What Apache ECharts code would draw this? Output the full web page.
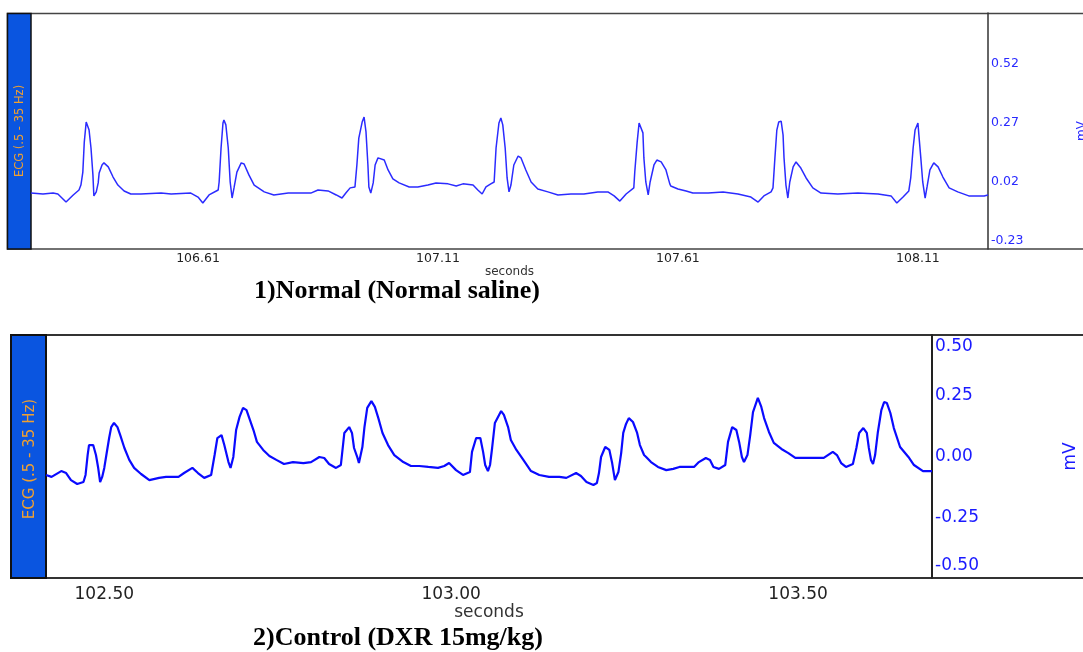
<!DOCTYPE html>
<html>
<head>
<meta charset="utf-8">
<script src="https://cdn.jsdelivr.net/npm/echarts@6/dist/echarts.min.js"></script>
<style>
  html, body { margin: 0; padding: 0; background: #fff; }
  #main { width: 1083px; height: 652px; }
</style>
</head>
<body>
<div id="main"></div>
<script>
// 1) Normal (Normal saline) - ECG trace, seconds / mV
var normalTime = [
  106.262,106.287,106.308,106.318,106.335,106.350,106.362,106.366,106.370,106.373,
  106.377,106.381,106.383,106.387,106.391,106.393,106.398,106.402,106.404,106.410,
  106.414,106.423,106.433,106.443,106.456,106.470,106.491,106.533,106.554,106.595,
  106.610,106.620,106.633,106.652,106.654,106.658,106.662,106.664,106.668,106.673,
  106.677,106.681,106.685,106.691,106.700,106.706,106.716,106.727,106.748,106.768,
  106.798,106.845,106.860,106.881,106.898,106.910,106.918,106.927,106.937,106.941,
  106.945,106.952,106.956,106.960,106.964,106.966,106.970,106.975,106.979,106.985,
  106.989,106.998,107.006,107.016,107.029,107.050,107.068,107.089,107.106,107.131,
  107.148,107.162,107.183,107.193,107.202,107.210,107.220,107.227,107.231,107.237,
  107.241,107.245,107.250,107.254,107.258,107.262,107.268,107.277,107.283,107.293,
  107.304,107.318,107.339,107.360,107.387,107.414,107.443,107.464,107.477,107.489,
  107.502,107.518,107.520,107.525,107.529,107.533,107.537,107.539,107.543,107.548,
  107.552,107.560,107.566,107.575,107.585,107.593,107.595,107.610,107.627,107.641,
  107.673,107.704,107.735,107.762,107.777,107.789,107.804,107.808,107.812,107.816,
  107.820,107.825,107.829,107.831,107.835,107.839,107.843,107.850,107.856,107.866,
  107.877,107.891,107.908,107.943,107.985,108.027,108.054,108.066,108.079,108.091,
  108.095,108.100,108.104,108.110,108.112,108.116,108.120,108.125,108.129,108.135,
  108.143,108.152,108.162,108.175,108.193,108.216,108.248,108.256
];
var normalMv = [
  -0.027,-0.031,-0.027,-0.031,-0.065,-0.035,-0.014,0.007,0.062,0.189,
  0.274,0.270,0.240,0.164,0.050,-0.039,-0.022,0.016,0.058,0.092,
  0.101,0.084,0.041,0.007,-0.018,-0.031,-0.031,-0.027,-0.031,-0.027,
  -0.044,-0.069,-0.035,-0.014,0.020,0.164,0.270,0.283,0.262,0.164,
  0.020,-0.048,-0.005,0.062,0.101,0.096,0.050,0.007,-0.022,-0.035,
  -0.027,-0.027,-0.014,-0.018,-0.035,-0.048,-0.027,-0.005,-0.001,0.092,
  0.206,0.274,0.295,0.232,0.092,-0.001,-0.027,0.016,0.092,0.122,
  0.130,0.113,0.071,0.033,0.016,-0.001,-0.001,0.007,0.016,0.012,
  0.003,0.012,0.007,-0.014,-0.031,-0.001,0.012,0.020,0.164,0.270,
  0.291,0.262,0.164,0.037,-0.022,0.007,0.092,0.130,0.122,0.071,
  0.020,-0.010,-0.022,-0.035,-0.031,-0.031,-0.022,-0.022,-0.039,-0.061,
  -0.031,-0.005,0.062,0.189,0.270,0.278,0.228,0.122,0.020,-0.035,
  0.020,0.092,0.113,0.105,0.071,0.012,0.003,-0.010,-0.018,-0.027,
  -0.027,-0.022,-0.031,-0.044,-0.065,-0.039,-0.022,-0.005,0.122,0.240,
  0.274,0.278,0.219,0.122,0.007,-0.048,0.020,0.084,0.105,0.079,
  0.037,-0.005,-0.027,-0.031,-0.027,-0.031,-0.039,-0.069,-0.044,-0.018,
  0.037,0.164,0.240,0.270,0.219,0.122,0.020,-0.048,-0.001,0.071,
  0.101,0.084,0.041,-0.005,-0.022,-0.039,-0.039,-0.035
];
var normalTicks = [106.61, 107.11, 107.61, 108.11];
var normalMvTicks = [-0.23, 0.02, 0.27, 0.52];

// 2) Control (DXR 15mg/kg)
var controlTime = [
  102.416,102.424,102.438,102.445,102.452,102.461,102.470,102.473,102.476,102.478,
  102.484,102.488,102.491,102.494,102.497,102.500,102.503,102.507,102.510,102.514,
  102.519,102.523,102.529,102.536,102.543,102.553,102.565,102.579,102.589,102.607,
  102.615,102.627,102.635,102.644,102.654,102.659,102.663,102.669,102.673,102.679,
  102.682,102.686,102.690,102.695,102.700,102.705,102.709,102.715,102.720,102.729,
  102.738,102.748,102.759,102.772,102.787,102.798,102.810,102.817,102.824,102.834,
  102.841,102.846,102.853,102.857,102.860,102.865,102.867,102.872,102.875,102.879,
  102.885,102.890,102.895,102.901,102.909,102.918,102.931,102.942,102.954,102.967,
  102.981,102.990,102.997,103.007,103.017,103.027,103.030,103.036,103.042,103.046,
  103.049,103.053,103.056,103.059,103.063,103.069,103.072,103.076,103.082,103.086,
  103.094,103.104,103.115,103.127,103.141,103.156,103.166,103.180,103.187,103.195,
  103.205,103.210,103.213,103.216,103.222,103.228,103.232,103.236,103.241,103.245,
  103.248,103.252,103.256,103.262,103.268,103.272,103.278,103.281,103.288,103.298,
  103.310,103.320,103.329,103.350,103.357,103.367,103.373,103.378,103.386,103.395,
  103.399,103.405,103.411,103.415,103.419,103.422,103.427,103.431,103.435,103.442,
  103.447,103.451,103.458,103.465,103.476,103.486,103.496,103.522,103.537,103.550,
  103.556,103.562,103.569,103.579,103.584,103.588,103.594,103.599,103.602,103.605,
  103.608,103.611,103.615,103.620,103.624,103.628,103.633,103.638,103.647,103.659,
  103.667,103.680,103.693
];
var controlMv = [
  -0.076,-0.084,-0.060,-0.068,-0.097,-0.113,-0.105,-0.076,0.006,0.047,
  0.047,0.006,-0.043,-0.105,-0.084,-0.047,0.006,0.076,0.121,0.138,
  0.121,0.088,0.035,-0.014,-0.047,-0.072,-0.097,-0.088,-0.084,-0.084,
  -0.068,-0.047,-0.068,-0.088,-0.076,0.006,0.076,0.088,0.047,-0.023,
  -0.047,-0.002,0.109,0.163,0.200,0.191,0.158,0.109,0.060,0.027,
  0.002,-0.014,-0.031,-0.023,-0.027,-0.023,-0.002,-0.006,-0.031,-0.047,
  -0.035,0.097,0.121,0.097,0.035,-0.006,-0.027,0.039,0.121,0.200,
  0.228,0.204,0.158,0.097,0.047,0.006,-0.023,-0.039,-0.039,-0.043,
  -0.047,-0.039,-0.027,-0.056,-0.076,-0.064,0.019,0.076,0.076,0.019,
  -0.035,-0.060,-0.035,0.035,0.138,0.171,0.187,0.171,0.121,0.068,
  0.027,-0.014,-0.060,-0.076,-0.084,-0.084,-0.088,-0.068,-0.080,-0.105,
  -0.117,-0.109,-0.068,-0.002,0.039,0.027,-0.027,-0.097,-0.064,0.014,
  0.097,0.134,0.158,0.142,0.097,0.047,0.006,-0.002,-0.023,-0.043,
  -0.056,-0.051,-0.043,-0.043,-0.023,-0.006,-0.014,-0.043,-0.051,-0.035,
  0.060,0.121,0.109,0.060,-0.002,-0.023,0.006,0.088,0.183,0.241,
  0.204,0.158,0.101,0.056,0.031,0.014,-0.006,-0.006,-0.006,0.019,
  0.006,-0.027,-0.043,-0.031,0.035,0.097,0.117,0.097,0.035,-0.014,
  -0.031,0.006,0.101,0.191,0.224,0.220,0.179,0.117,0.039,-0.002,
  -0.035,-0.060,-0.060
];
var controlTicks = [102.50, 103.00, 103.50];
var controlMvTicks = [-0.50, -0.25, 0.00, 0.25, 0.50];

function pairs(xs, ys) {
  return xs.map(function (x, i) { return [x, ys[i]]; });
}

var chart = echarts.init(document.getElementById('main'));
var font = '"DejaVu Sans", Arial, sans-serif';
var serif = '"Liberation Serif", "Times New Roman", serif';

var option = {
  animation: false,
  backgroundColor: '#fff',
  grid: [
    { left: 31, top: 13, width: 957, height: 236, outerBoundsMode: 'none' },
    { left: 46, top: 335, width: 886, height: 243, outerBoundsMode: 'none' }
  ],
  xAxis: [
    {
      gridIndex: 0, type: 'value', min: 106.262, max: 108.256,
      name: 'seconds', nameLocation: 'middle', nameGap: 15,
      nameTextStyle: { color: '#333', fontSize: 12, fontFamily: font },
      axisLine: { show: false }, axisTick: { show: false }, splitLine: { show: false },
      axisLabel: {
        customValues: normalTicks, margin: 3, color: '#222', fontSize: 12.5, fontFamily: font,
        formatter: function (v) { return v.toFixed(2); }
      }
    },
    {
      gridIndex: 1, type: 'value', min: 102.416, max: 103.693,
      name: 'seconds', nameLocation: 'middle', nameGap: 24,
      nameTextStyle: { color: '#333', fontSize: 17, fontFamily: font },
      axisLine: { show: false }, axisTick: { show: false }, splitLine: { show: false },
      axisLabel: {
        customValues: controlTicks, margin: 8, color: '#222', fontSize: 17, fontFamily: font,
        formatter: function (v) { return v.toFixed(2); }
      }
    }
  ],
  yAxis: [
    {
      gridIndex: 0, type: 'value', position: 'right', min: -0.264, max: 0.736,
      name: 'mV', nameLocation: 'middle', nameGap: 88, nameRotate: 90,
      nameTextStyle: { color: '#2a2aff', fontSize: 12, fontFamily: font },
      axisLine: { show: true, lineStyle: { color: '#333', width: 1.5 } },
      axisTick: { show: false }, splitLine: { show: false },
      axisLabel: {
        customValues: normalMvTicks, margin: 3, color: '#2a2aff', fontSize: 12.5, fontFamily: font,
        formatter: function (v) { return v.toFixed(2); }
      }
    },
    {
      gridIndex: 1, type: 'value', position: 'right', min: -0.5, max: 0.5, interval: 0.25,
      name: 'mV', nameLocation: 'middle', nameGap: 130, nameRotate: 90,
      nameTextStyle: { color: '#1a1aff', fontSize: 17, fontFamily: font },
      axisLine: { show: true, lineStyle: { color: '#222', width: 2 } },
      axisTick: { show: false }, splitLine: { show: false },
      axisLabel: {
        margin: 3, color: '#1a1aff', fontSize: 17, fontFamily: font, lineHeight: 24,
        verticalAlignMaxLabel: 'top', verticalAlignMinLabel: 'bottom',
        formatter: function (v) { return v.toFixed(2); }
      }
    }
  ],
  series: [
    {
      type: 'line', xAxisIndex: 0, yAxisIndex: 0, showSymbol: false, clip: true,
      lineStyle: { color: '#2b2bff', width: 1.5 },
      data: pairs(normalTime, normalMv)
    },
    {
      type: 'line', xAxisIndex: 1, yAxisIndex: 1, showSymbol: false, clip: true,
      lineStyle: { color: '#0a0aff', width: 2.2 },
      data: pairs(controlTime, controlMv)
    }
  ],
  graphic: [
    // panel frames
    { type: 'rect', shape: { x: 7.5, y: 13.5, width: 1100, height: 235.5 },
      style: { fill: null, stroke: '#444', lineWidth: 1.5 } },
    { type: 'rect', shape: { x: 7.5, y: 13.5, width: 23.5, height: 235.5 },
      style: { fill: '#0a55e0', stroke: '#111', lineWidth: 1.5 } },
    { type: 'text', x: 20, y: 131, rotation: Math.PI / 2,
      style: { text: 'ECG (.5 - 35 Hz)', fill: '#f0a030', fontSize: 11.5, fontFamily: font,
               align: 'center', verticalAlign: 'middle' } },
    { type: 'rect', shape: { x: 11, y: 335, width: 1100, height: 243 },
      style: { fill: null, stroke: '#333', lineWidth: 2 } },
    { type: 'rect', shape: { x: 11, y: 335, width: 35, height: 243 },
      style: { fill: '#0a55e0', stroke: '#111', lineWidth: 2 } },
    { type: 'text', x: 30, y: 459, rotation: Math.PI / 2,
      style: { text: 'ECG (.5 - 35 Hz)', fill: '#f0a030', fontSize: 15, fontFamily: font,
               align: 'center', verticalAlign: 'middle' } },
    // captions
    { type: 'text', x: 397, y: 291,
      style: { text: '1)Normal (Normal saline)', fill: '#000', fontSize: 26, fontWeight: 'bold',
               fontFamily: serif, align: 'center', verticalAlign: 'middle' } },
    { type: 'text', x: 398, y: 638,
      style: { text: '2)Control (DXR 15mg/kg)', fill: '#000', fontSize: 26, fontWeight: 'bold',
               fontFamily: serif, align: 'center', verticalAlign: 'middle' } }
  ]
};

chart.setOption(option);
</script>
</body>
</html>
